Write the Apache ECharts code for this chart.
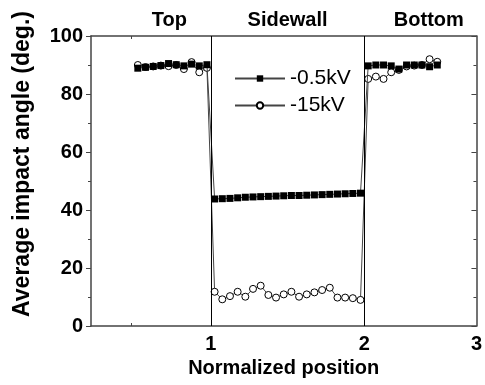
<!DOCTYPE html>
<html>
<head>
<meta charset="utf-8">
<script src="https://cdn.jsdelivr.net/npm/echarts@6/dist/echarts.min.js"></script>
<style>
  html, body { margin: 0; padding: 0; background: #fff; }
  #chart { width: 485px; height: 385px; }
</style>
</head>
<body>
<div id="chart"></div>
<script>
// x positions (in sidewall units) of the sampled points
const topX = [0.525, 0.575, 0.625, 0.675, 0.725, 0.775, 0.825, 0.875, 0.925, 0.975]
const sideX = [1.025, 1.075, 1.125, 1.175, 1.225, 1.275, 1.325, 1.375, 1.425, 1.475,
  1.525, 1.575, 1.625, 1.675, 1.725, 1.775, 1.825, 1.875, 1.925, 1.975]
const bottomX = [2.025, 2.075, 2.125, 2.175, 2.225, 2.275, 2.325, 2.375, 2.425, 2.475]

// -0.5kV
const topLow = [88.9, 89.2, 89.5, 89.8, 90.5, 90.1, 89.7, 90.3, 89.7, 90.1]
const sideLow = [43.8, 43.9, 44.0, 44.2, 44.4, 44.5, 44.6, 44.7, 44.8, 44.9,
  45.0, 45.0, 45.1, 45.2, 45.3, 45.4, 45.5, 45.6, 45.7, 45.8]
const bottomLow = [89.7, 90.0, 90.0, 89.7, 88.6, 90.0, 90.0, 90.0, 89.4, 90.0]

// -15kV
const topHigh = [90.0, 89.3, 89.5, 89.8, 89.6, 90.0, 88.6, 91.0, 87.5, 89.0]
const sideHigh = [11.8, 9.2, 10.3, 11.8, 10.1, 12.8, 13.9, 10.7, 9.8, 10.9,
  11.8, 10.1, 10.9, 11.6, 12.4, 13.2, 9.8, 9.8, 9.6, 9.0]
const bottomHigh = [85.2, 86.0, 85.2, 87.5, 88.3, 89.5, 89.8, 90.0, 92.0, 91.1]

const seriesNames = ['-0.5kV', '-15kV']
const dividers = [1, 2]
const xMin = 0.22
const xMax = 2.73
const xTickPos = [0.48, 1, 2]
const xLabelPos = [1, 2, 2.73]
const xLabelText = ['1', '2', '3']
const sectionPos = [0.73, 1.5, 2.42]
const sectionText = ['Top', 'Sidewall', 'Bottom']

const font = 'Liberation Sans, Arial, sans-serif'
const axisColor = '#444'

function pairs(xs, ys) {
  return xs.map((x, i) => [x, ys[i]])
}

function lookup(v, pos, text) {
  let best = 0
  pos.forEach((p, i) => {
    if (Math.abs(p - v) < Math.abs(pos[best] - v)) best = i
  })
  return text[best]
}

const xs = topX.concat(sideX, bottomX)
const lowData = pairs(xs, topLow.concat(sideLow, bottomLow))
const highData = pairs(xs, topHigh.concat(sideHigh, bottomHigh))

const chart = echarts.init(document.getElementById('chart'))

const option = {
  animation: false,
  textStyle: { fontFamily: font },
  grid: { left: 91, right: 6, top: 36, bottom: 59 },
  legend: {
    data: seriesNames,
    orient: 'vertical',
    left: 229,
    top: 63,
    itemWidth: 50,
    itemHeight: 8,
    itemGap: 6,
    textStyle: { fontSize: 21, color: '#000', fontFamily: font }
  },
  xAxis: [
    {
      type: 'value',
      position: 'bottom',
      min: xMin,
      max: xMax,
      name: 'Normalized position',
      nameLocation: 'middle',
      nameGap: 31,
      nameTextStyle: { fontSize: 20, fontWeight: 'bold', color: '#000' },
      axisLine: { show: true, onZero: false, lineStyle: { color: axisColor, width: 1.5 } },
      axisTick: { show: true, inside: true, length: 3, customValues: xTickPos, lineStyle: { color: axisColor } },
      axisLabel: {
        customValues: xLabelPos,
        margin: 8,
        fontSize: 20,
        fontWeight: 'bold',
        color: '#000',
        formatter: v => lookup(v, xLabelPos, xLabelText)
      },
      splitLine: { show: false }
    },
    {
      type: 'value',
      position: 'top',
      min: xMin,
      max: xMax,
      axisLine: { show: true, onZero: false, lineStyle: { color: axisColor, width: 1.5 } },
      axisTick: { show: true, inside: true, length: 3, customValues: xTickPos, lineStyle: { color: axisColor } },
      axisLabel: {
        customValues: sectionPos,
        margin: 6,
        fontSize: 20,
        fontWeight: 'bold',
        color: '#000',
        formatter: v => lookup(v, sectionPos, sectionText)
      },
      splitLine: { show: false }
    }
  ],
  yAxis: [
    {
      type: 'value',
      min: 0,
      max: 100,
      interval: 20,
      name: 'Average impact angle (deg.)',
      nameLocation: 'middle',
      nameGap: 57,
      nameTextStyle: { fontSize: 23, fontWeight: 'bold', color: '#000', padding: [0, 0, 0, 34] },
      axisLine: { show: true, lineStyle: { color: axisColor, width: 1.5 } },
      axisTick: { show: true, length: 5, lineStyle: { color: axisColor } },
      minorTick: { show: true, splitNumber: 2, length: 3, lineStyle: { color: axisColor } },
      axisLabel: { margin: 8, fontSize: 20, fontWeight: 'bold', color: '#000' },
      splitLine: { show: false }
    },
    {
      type: 'value',
      position: 'right',
      min: 0,
      max: 100,
      interval: 20,
      axisLine: { show: true, lineStyle: { color: axisColor, width: 1.5 } },
      axisTick: { show: true, inside: true, length: 5, lineStyle: { color: axisColor } },
      minorTick: { show: true, splitNumber: 2, length: 3, lineStyle: { color: axisColor } },
      axisLabel: { show: false },
      splitLine: { show: false }
    }
  ],
  series: [
    {
      name: seriesNames[0],
      type: 'line',
      data: lowData,
      z: 4,
      symbol: 'rect',
      symbolSize: 7,
      itemStyle: { color: '#000', borderColor: '#000', borderWidth: 0 },
      lineStyle: { color: '#444', width: 1 },
      markLine: {
        silent: true,
        symbol: 'none',
        label: { show: false },
        lineStyle: { color: '#000', width: 1, type: 'solid' },
        data: dividers.map(d => ({ xAxis: d }))
      }
    },
    {
      name: seriesNames[1],
      type: 'line',
      data: highData,
      z: 3,
      symbol: 'circle',
      symbolSize: 7,
      showAllSymbol: true,
      itemStyle: { color: '#fff', borderColor: '#000', borderWidth: 1 },
      lineStyle: { color: '#444', width: 1 }
    }
  ]
}

chart.setOption(option)
</script>
</body>
</html>
